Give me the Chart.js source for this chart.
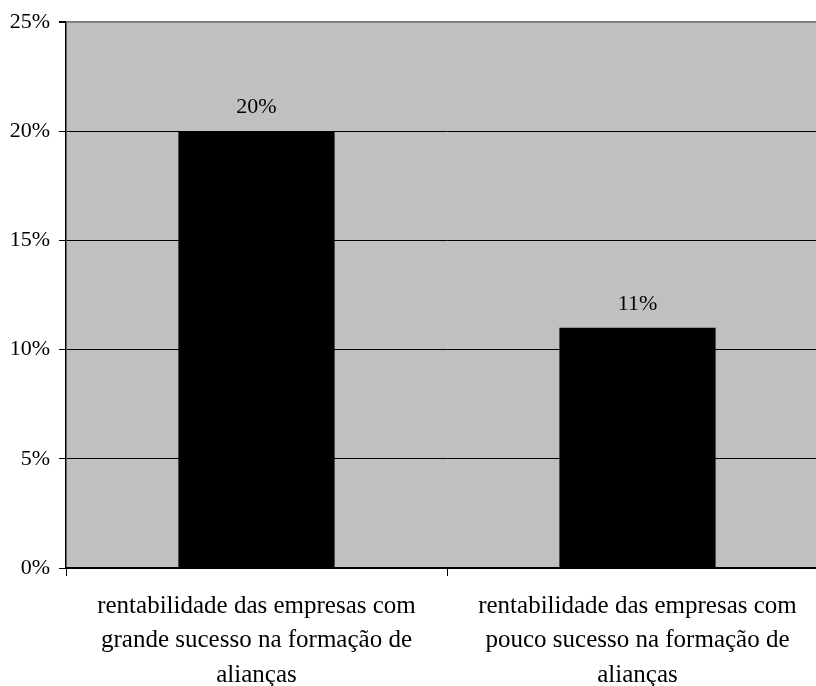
<!DOCTYPE html>
<html>
<head>
<meta charset="utf-8">
<script src="https://cdn.jsdelivr.net/npm/chart.js@4"></script>
<style>
html,body{margin:0;padding:0;background:#fff;overflow:hidden;width:816px;height:686px;}
#wrap{width:830px;height:686px;position:relative;}
</style>
</head>
<body>
<div id="wrap"><canvas id="c" width="830" height="686"></canvas></div>
<script>
const categories = [
  ["rentabilidade das empresas com", "grande sucesso na formação de", "alianças"],
  ["rentabilidade das empresas com", "pouco sucesso na formação de", "alianças"]
];
const values = [20, 11];
const valueLabels = ["20%", "11%"];
const yTicks = [0, 5, 10, 15, 20, 25];

const FONT = "'Liberation Serif', 'Times New Roman', serif";

const bgPlugin = {
  id: 'bg',
  beforeDraw(chart) {
    const a = chart.chartArea, ctx = chart.ctx;
    ctx.save();
    ctx.fillStyle = '#c0c0c0';
    ctx.fillRect(a.left, a.top, a.right - a.left, a.bottom - a.top);
    ctx.restore();
  }
};
const labelPlugin = {
  id: 'vlabels',
  afterDatasetsDraw(chart) {
    const ctx = chart.ctx;
    const meta = chart.getDatasetMeta(0);
    ctx.save();
    ctx.font = '22px ' + FONT;
    ctx.fillStyle = '#000';
    ctx.textAlign = 'center';
    ctx.textBaseline = 'middle';
    meta.data.forEach((bar, i) => {
      ctx.fillText(valueLabels[i], bar.x, bar.y - 24);
    });
    ctx.restore();
  }
};

new Chart(document.getElementById('c'), {
  type: 'bar',
  data: {
    labels: categories,
    datasets: [{
      data: values,
      backgroundColor: '#000',
      borderWidth: 0,
      barPercentage: 0.82,
      categoryPercentage: 0.5
    }]
  },
  options: {
    responsive: false,
    animation: false,
    layout: { padding: { top: 20, left: 0, right: 2, bottom: 0 } },
    plugins: { legend: { display: false }, tooltip: { enabled: false } },
    scales: {
      x: {
        grid: { offset: true, drawOnChartArea: false, color: '#000', tickLength: 8, lineWidth: 1 },
        border: { color: '#000', width: 2 },
        ticks: { color: '#000', font: { family: FONT, size: 25, lineHeight: 1.38 }, padding: 13, maxRotation: 0, autoSkip: false },
        afterFit(s) { s.height = 118; }
      },
      y: {
        min: 0, max: 25,
        afterBuildTicks(s) { s.ticks = yTicks.map(v => ({ value: v })); },
        grid: {
          color: (c) => c.tick && c.tick.value === 25 ? '#808080' : '#000',
          lineWidth: (c) => c.tick && c.tick.value === 25 ? 2 : 1,
          tickLength: 7,
          tickColor: '#000'
        },
        border: { color: '#000', width: 1.5 },
        ticks: {
          color: '#000', font: { family: FONT, size: 22 }, padding: 9,
          callback: (v) => v + '%'
        },
        afterFit(s) { s.width = 66; }
      }
    }
  },
  plugins: [bgPlugin, labelPlugin]
});
</script>
</body>
</html>
